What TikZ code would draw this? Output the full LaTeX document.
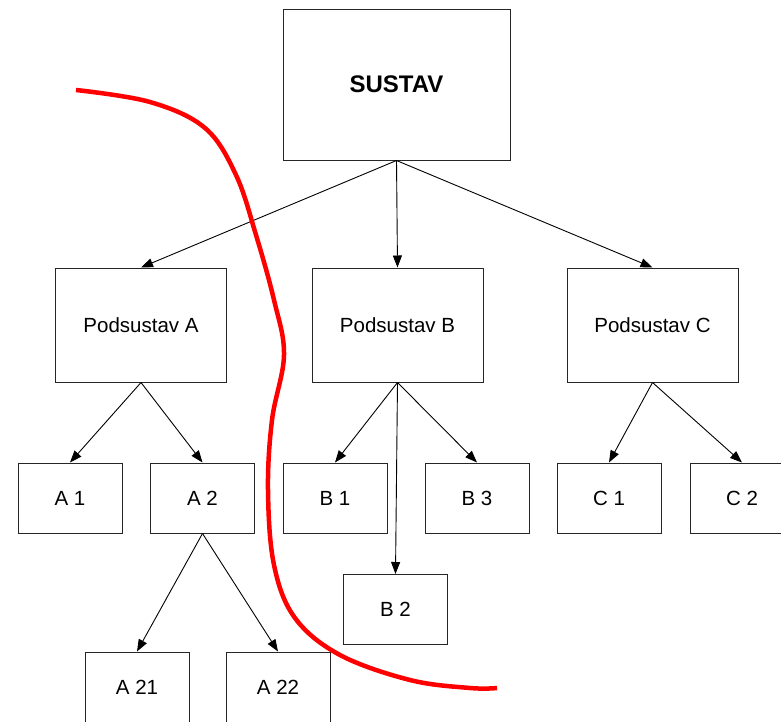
\documentclass[tikz,border=0pt]{standalone}
\usepackage{fontspec}
\setmainfont{Liberation Sans}
\usetikzlibrary{arrows.meta}
\tikzset{
  box/.style={draw=black!85, line width=1pt, minimum width=104pt, minimum height=70pt, inner sep=0pt,
    font=\fontsize{20.5}{24}\selectfont},
  bigbox/.style={box, minimum width=171pt, minimum height=114pt},
  topbox/.style={box, minimum width=227pt, minimum height=151pt, font=\fontsize{24}{28}\selectfont\bfseries},
  cutbox/.style={box, minimum height=90pt, text height=15pt, text depth=20pt},
  conn/.style={draw=black, line width=0.9pt, -{Triangle[length=12pt,width=9pt]}},
  redline/.style={draw=red, line width=4.5pt}
}
\begin{document}
\begin{tikzpicture}[x=1pt,y=-1pt]
\clip (0,0) rectangle (781,721);
\fill[white] (0,0) rectangle (781,721);
\node[topbox] (S) at (396.5,84.5) {SUSTAV};
\node[bigbox] (PA) at (141,325) {Podsustav A};
\node[bigbox] (PB) at (397.5,325) {Podsustav B};
\node[bigbox] (PC) at (652.5,325) {Podsustav C};
\node[box] (A1) at (70,498) {A 1};
\node[box] (A2) at (202.5,498) {A 2};
\node[box] (B1) at (335,498) {B 1};
\node[box] (B3) at (477,498) {B 3};
\node[box] (C1) at (609,498) {C 1};
\node[box] (C2) at (742,498) {C 2};
\node[box] (B2) at (395.5,609.5) {B 2};
\node[cutbox] (A21) at (137,697) {A 21};
\node[cutbox] (A22) at (278,697) {A 22};
\draw[conn] (S.south) -- (PA.north);
\draw[conn] (S.south) -- (PB.north);
\draw[conn] (S.south) -- (PC.north);
\draw[conn] (PA.south) -- (A1.north);
\draw[conn] (PA.south) -- (A2.north);
\draw[conn] (PB.south) -- (B1.north);
\draw[conn] (PB.south) -- (B2.north);
\draw[conn] (PB.south) -- (B3.north);
\draw[conn] (PC.south) -- (C1.north);
\draw[conn] (PC.south) -- (C2.north);
\draw[conn] (A2.south) -- (A21.north);
\draw[conn] (A2.south) -- (A22.north);
\draw[redline] plot[smooth, tension=0.6] coordinates {(76,90) (150,102) (205,128) (236,175) (256,235) (274,300) (284,355) (272,420) (268,490) (274,565) (295,618) (340,655) (410,680) (470,688) (497,688)};
\end{tikzpicture}
\end{document}
